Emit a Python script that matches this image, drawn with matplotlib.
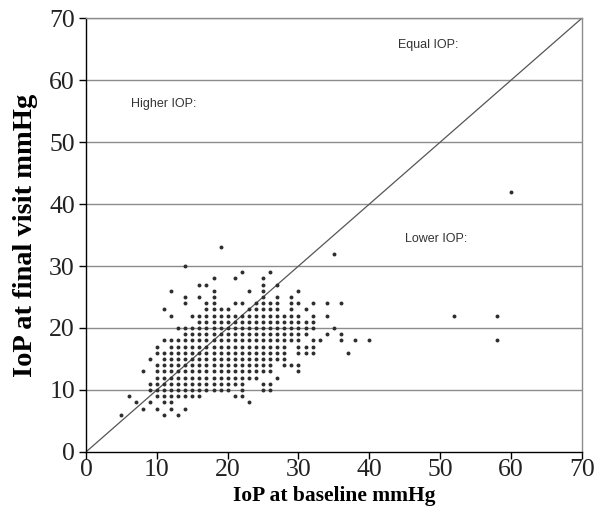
import numpy as np
import matplotlib.pyplot as plt

# final-visit IOP (one row of dots per integer value) and the baseline values in that row
final_rows = [6, 7, 8, 9, 10, 11, 12, 13, 14, 15, 16, 17, 18, 19, 20,
              21, 22, 23, 24, 25, 26, 27, 28, 29, 30, 32, 33]
baseline_rows = [
    [5, 11, 13],
    [8, 10, 12, 14],
    [7, 9, 11, 12, 23],
    [6, *range(10, 17), 21, 22],
    [*range(9, 21), 22, 25, 26],
    [*range(9, 23), 25, 26],
    [*range(10, 25), 27],
    [8, *range(10, 27), 30],
    [*range(10, 27), 28, 29, 30],
    [9, *range(11, 29)],
    [*range(10, 29), 30, 31, 32, 37],
    [10, *range(12, 29), 30, 31, 32],
    [*range(11, 31), 32, 33, 36, 38, 40],
    [*range(14, 32), 34, 36],
    [*range(13, 33), 35],
    [*range(16, 33)],
    [12, *range(15, 31), 32, 34],
    [11, *range(17, 21), *range(23, 28), 29, 31],
    [14, 17, 18, 21, 22, 24, 25, 26, 27, 29, 30, 32, 34, 36],
    [14, 16, 18, 25, 27, 29],
    [12, 18, 23, 25, 30],
    [16, 17, 25, 27],
    [18, 21, 25],
    [22, 26],
    [14],
    [35],
    [19],
]
# isolated points far to the right
outlier_baseline = [52, 58, 58, 60]
outlier_final = [22, 22, 18, 42]

ticks = [0, 10, 20, 30, 40, 50, 60, 70]

x = [b for row, y in zip(baseline_rows, final_rows) for b in row] + outlier_baseline
y = [y for row, y in zip(baseline_rows, final_rows) for _ in row] + outlier_final

fig = plt.figure(figsize=(6.06, 5.23), dpi=100)
ax = fig.add_axes([0.142, 0.136, 0.818, 0.829])

for t in ticks[1:]:
    ax.axhline(t, color='#8c8c8c', linewidth=1.0, zorder=1)
ax.plot([0, 70], [0, 70], color='#555555', linewidth=0.9, zorder=2)
ax.scatter(x, y, s=8, color='#2e2e2e', linewidths=0, zorder=3)

ax.set_xlim(0, 70)
ax.set_ylim(0, 70)
ax.set_xticks(ticks)
ax.set_yticks(ticks)

for side in ['top', 'right']:
    ax.spines[side].set_color('#8c8c8c')
    ax.spines[side].set_linewidth(1.0)
for side in ['left', 'bottom']:
    ax.spines[side].set_color('black')
    ax.spines[side].set_linewidth(1.0)

ax.tick_params(direction='out', length=5, width=1, color='black',
               labelsize=18.5, pad=0)
ax.tick_params(axis='y', pad=3)
for lab in ax.get_xticklabels() + ax.get_yticklabels():
    lab.set_family('Liberation Serif')
    lab.set_color('#222222')

ax.set_xlabel('IoP at baseline mmHg', family='Liberation Serif',
              fontweight='bold', fontsize=15.5, labelpad=4)
ax.set_ylabel('IoP at final visit mmHg', family='Liberation Serif',
              fontweight='bold', fontsize=20.5, labelpad=8)

note_kw = dict(family='Liberation Sans', fontsize=9, color='#333333',
               ha='center', va='center')
ax.text(48.3, 65.7, 'Equal IOP:', **note_kw)
ax.text(10.9, 56.2, 'Higher IOP:', **note_kw)
ax.text(49.5, 34.4, 'Lower IOP:', **note_kw)

fig.savefig('out.png', dpi=100)
